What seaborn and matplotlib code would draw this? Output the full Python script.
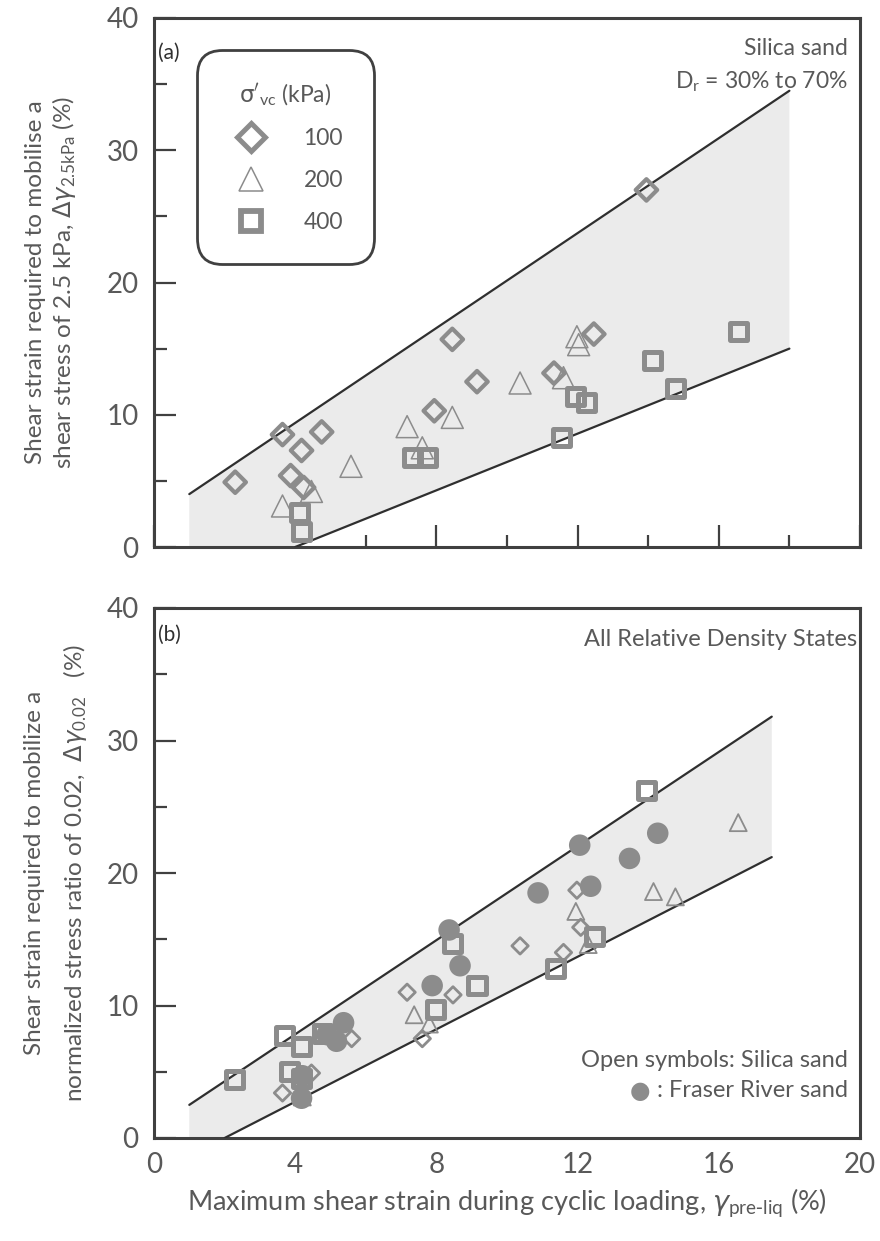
import matplotlib
matplotlib.use("Agg")
import matplotlib.pyplot as plt
from matplotlib.lines import Line2D
from matplotlib.ticker import MultipleLocator, FixedLocator
import seaborn as sns

# ---- Panel (a): silica sand, strain needed to mobilise 2.5 kPa ----
a100_x = [2.3, 3.64, 4.18, 4.75, 3.87, 4.24, 8.45, 9.15, 7.94, 11.33, 12.46, 13.95]
a100_y = [4.9, 8.5, 7.3, 8.7, 5.4, 4.5, 15.7, 12.5, 10.3, 13.15, 16.1, 27.0]
a200_x = [3.64, 4.46, 5.58, 7.17, 7.6, 8.45, 10.37, 11.6, 11.98, 12.03]
a200_y = [3.1, 4.2, 6.1, 9.1, 7.5, 9.8, 12.4, 12.8, 15.9, 15.3]
a400_x = [4.12, 4.18, 7.32, 7.74, 11.53, 11.95, 12.26, 14.12, 14.77, 16.55]
a400_y = [2.6, 1.2, 6.8, 6.8, 8.3, 11.4, 10.9, 14.1, 12.0, 16.3]

# band limits for panel (a)
a_upper_x = [1.0, 18.0]
a_upper_y = [4.0, 34.5]
a_lower_x = [4.0, 18.0]
a_lower_y = [0.0, 15.0]

# ---- Panel (b): strain needed to mobilise a stress ratio of 0.02 ----
b100_x = [3.64, 4.46, 5.6, 7.17, 7.6, 8.47, 10.37, 11.6, 11.98, 12.09]
b100_y = [3.4, 4.9, 7.5, 11.0, 7.5, 10.8, 14.5, 14.0, 18.7, 15.9]
b200_x = [4.2, 7.37, 7.8, 11.95, 12.3, 14.15, 14.77, 16.55]
b200_y = [3.1, 9.3, 8.6, 17.1, 14.6, 18.6, 18.2, 23.8]
b400_x = [2.29, 3.7, 4.18, 4.77, 3.84, 4.18, 8.47, 9.15, 7.97, 13.95, 12.49, 11.36]
b400_y = [4.45, 7.7, 6.9, 7.9, 5.0, 4.5, 14.7, 11.5, 9.7, 26.2, 15.2, 12.8]
fraser_x = [5.37, 5.17, 4.18, 4.2, 4.9, 8.36, 8.67, 7.88, 14.27, 12.06, 13.47, 10.88, 12.37]
fraser_y = [8.7, 7.3, 3.0, 4.7, 7.8, 15.7, 13.0, 11.5, 23.0, 22.1, 21.1, 18.5, 19.0]

b_upper_x = [1.0, 17.5]
b_upper_y = [2.5, 31.8]
b_lower_x = [2.0, 17.5]
b_lower_y = [0.0, 21.2]

x_ticks = [0, 4, 8, 12, 16, 20]
y_ticks = [0, 10, 20, 30, 40]
legend_labels = ["100", "200", "400"]

MARK = "#8c8c8c"
TEXT = "#595959"
FRAME = "#404040"
BAND = "#ebebeb"

sns.set_theme(style="white")
plt.rcParams["font.family"] = ["Lato", "DejaVu Sans"]
plt.rcParams["mathtext.fontset"] = "dejavusans"
plt.rcParams["text.color"] = TEXT
plt.rcParams["axes.labelcolor"] = TEXT
plt.rcParams["xtick.color"] = FRAME
plt.rcParams["ytick.color"] = FRAME
plt.rcParams["xtick.labelcolor"] = TEXT
plt.rcParams["ytick.labelcolor"] = TEXT

fig = plt.figure(figsize=(8.8, 12.41), dpi=100)
W, H = 880, 1241
ax1 = fig.add_axes([154 / W, 1 - 547 / H, 706 / W, 529 / H])
ax2 = fig.add_axes([154 / W, 1 - 1138 / H, 706 / W, 530 / H])


def open_scatter(ax, x, y, marker, s, lw):
    sns.scatterplot(x=x, y=y, ax=ax, marker=marker, s=s, color=MARK,
                    linewidth=lw, zorder=4, legend=False)
    coll = ax.collections[-1]
    coll.set_facecolor("none")
    coll.set_edgecolor(MARK)
    coll.set_linewidth(lw)


def band(ax, ux, uy, lx, ly):
    xs = [ux[0], ux[0], ux[1], lx[1], lx[0]]
    ys = [0.0, uy[0], uy[1], ly[1], ly[0]]
    ax.fill(xs, ys, color=BAND, lw=0, zorder=1)
    sns.lineplot(x=ux, y=uy, ax=ax, color="#2f2f2f", lw=1.6, zorder=3)
    sns.lineplot(x=lx, y=ly, ax=ax, color="#2f2f2f", lw=1.6, zorder=3)


def style_axes(ax, show_xlabels):
    ax.set_xlim(0, 20)
    ax.set_ylim(0, 40)
    for sp in ax.spines.values():
        sp.set_color(FRAME)
        sp.set_linewidth(2.2)
        sp.set_visible(True)
    ax.yaxis.set_major_locator(FixedLocator(y_ticks))
    ax.yaxis.set_minor_locator(MultipleLocator(5))
    ax.xaxis.set_major_locator(FixedLocator(x_ticks))
    ax.tick_params(axis="y", which="major", direction="in", length=16, width=1.6,
                   labelsize=20, pad=11, left=True)
    ax.tick_params(axis="y", which="minor", direction="in", length=9, width=1.6, left=True)
    if show_xlabels:
        ax.tick_params(axis="x", which="both", length=0, labelsize=20, pad=10)
    else:
        ax.xaxis.set_minor_locator(MultipleLocator(2))
        ax.tick_params(axis="x", which="major", direction="in", length=16, width=1.6,
                       bottom=True, labelbottom=False)
        ax.tick_params(axis="x", which="minor", direction="in", length=9, width=1.6,
                       bottom=True)
    ax.grid(False)


# ---------------- panel (a) ----------------
band(ax1, a_upper_x, a_upper_y, a_lower_x, a_lower_y)
open_scatter(ax1, a200_x, a200_y, "^", 250, 1.1)
open_scatter(ax1, a100_x, a100_y, "D", 120, 3.0)
open_scatter(ax1, a400_x, a400_y, "s", 150, 3.6)
style_axes(ax1, False)
ax1.set_xlabel("")
ax1.set_ylabel("Shear strain required to mobilise a\n"
               r"shear stress of 2.5 kPa, $\Delta\gamma_{\mathregular{2.5kPa}}$ (%)",
               fontsize=17.5, linespacing=1.2)
ax1.yaxis.set_label_coords(-0.108, 0.5)

ax1.text(0.006, 0.934, "(a)", transform=ax1.transAxes, fontsize=15,
         color="#303030", ha="left", va="center")
ax1.text(0.983, 0.943, "Silica sand", transform=ax1.transAxes, fontsize=16.5,
         ha="right", va="center")
ax1.text(0.983, 0.880, r"D$_{\mathregular{r}}$ = 30% to 70%", transform=ax1.transAxes,
         fontsize=16.5, ha="right", va="center")

handles = [
    Line2D([], [], ls="none", marker="D", ms=14, mfc="none", mec=MARK, mew=3.6),
    Line2D([], [], ls="none", marker="^", ms=17, mfc="none", mec=MARK, mew=1.1),
    Line2D([], [], ls="none", marker="s", ms=15, mfc="none", mec=MARK, mew=4.2),
]
leg = ax1.legend(handles, legend_labels,
                 title=r"$\mathrm{\sigma}'_{\mathregular{vc}}$ (kPa)",
                 loc="upper left", bbox_to_anchor=(0.0609, 0.9395),
                 fontsize=16.5, title_fontsize=16.5, frameon=True, fancybox=True,
                 handlelength=2.0, handletextpad=1.3, labelspacing=0.9,
                 borderpad=1.35, borderaxespad=0)
leg.get_title().set_color(TEXT)
for t in leg.get_texts():
    t.set_color(TEXT)
frame = leg.get_frame()
frame.set_edgecolor(FRAME)
frame.set_linewidth(2.0)
frame.set_facecolor("white")
frame.set_alpha(1)
frame.set_boxstyle("round", pad=0, rounding_size=1.1)

# ---------------- panel (b) ----------------
band(ax2, b_upper_x, b_upper_y, b_lower_x, b_lower_y)
open_scatter(ax2, b200_x, b200_y, "^", 150, 1.3)
sns.scatterplot(x=fraser_x, y=fraser_y, ax=ax2, marker="o", s=240, color=MARK,
                edgecolor="none", linewidth=0, zorder=4, legend=False)
open_scatter(ax2, b100_x, b100_y, "D", 70, 2.0)
open_scatter(ax2, b400_x, b400_y, "s", 150, 3.6)
style_axes(ax2, True)
ax2.set_xlabel(r"Maximum shear strain during cyclic loading, "
               r"$\gamma_{\mathregular{pre}\text{-}\mathregular{liq}}$ (%)",
               fontsize=19.5, labelpad=6)
ax2.set_ylabel("Shear strain required to mobilize a\n"
               r"normalized stress ratio of 0.02,  $\Delta\gamma_{\mathregular{0.02}}$   (%)",
               fontsize=17.5, linespacing=1.75)
ax2.yaxis.set_label_coords(-0.092, 0.5)

ax2.text(0.006, 0.949, "(b)", transform=ax2.transAxes, fontsize=15,
         color="#303030", ha="left", va="center")
ax2.text(0.996, 0.940, "All Relative Density States", transform=ax2.transAxes,
         fontsize=17, ha="right", va="center")
ax2.text(0.983, 0.147, "Open symbols: Silica sand", transform=ax2.transAxes,
         fontsize=17, ha="right", va="center")
ax2.text(0.983, 0.089, ": Fraser River sand", transform=ax2.transAxes,
         fontsize=17, ha="right", va="center")
ax2.text(0.688, 0.089, "\u25cf", transform=ax2.transAxes, fontsize=17,
         color=MARK, ha="center", va="center", family=["DejaVu Sans"])

fig.savefig("out.png", dpi=100, facecolor="white")
